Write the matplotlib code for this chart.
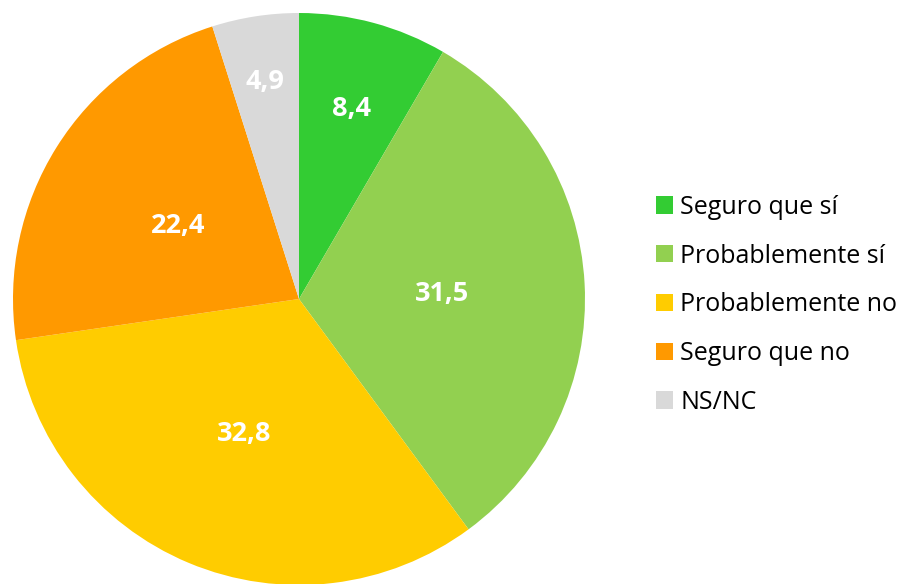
import numpy as np
import matplotlib.pyplot as plt

plt.rcParams['font.family'] = ['Open Sans', 'DejaVu Sans']

# Data
categories = ['Seguro que sí', 'Probablemente sí', 'Probablemente no', 'Seguro que no', 'NS/NC']
values = [8.4, 31.5, 32.8, 22.4, 4.9]
labels = ['8,4', '31,5', '32,8', '22,4', '4,9']
colors = ['#33CC33', '#92D050', '#FFCC00', '#FF9900', '#D9D9D9']
label_dist = [0.70, 0.50, 0.50, 0.50, 0.78]

fig = plt.figure(figsize=(9.06, 5.84), dpi=100)
r_px = 286
cx, cy = 299, 299
ax = fig.add_axes([(cx - r_px) / 906, (584 - cy - r_px) / 584, 2 * r_px / 906, 2 * r_px / 584])

wedges, _ = ax.pie(values, colors=colors, startangle=90, counterclock=False,
                   radius=1, wedgeprops=dict(linewidth=0))
ax.set_xlim(-1, 1)
ax.set_ylim(-1, 1)
ax.set_aspect('equal')

# value labels placed along each wedge's mid angle
for w, lab, d in zip(wedges, labels, label_dist):
    ang = np.deg2rad((w.theta1 + w.theta2) / 2)
    ax.text(d * np.cos(ang), d * np.sin(ang), lab, ha='center', va='center_baseline',
            color='white', fontsize=19.5, fontweight='bold')

fig.legend(wedges, categories, loc='center left', bbox_to_anchor=(0.699, 0.478),
           frameon=False, fontsize=18, handlelength=0.68, handleheight=0.68,
           handletextpad=0.3, labelspacing=0.95)

plt.savefig('out.png', dpi=100)
